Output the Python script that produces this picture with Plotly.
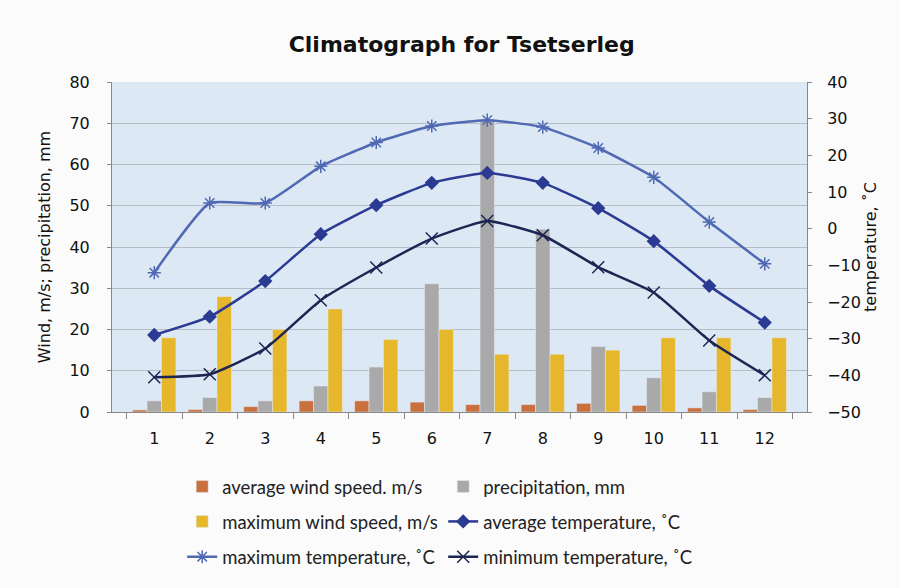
import plotly.graph_objects as go

months = [str(m) for m in range(1, 13)]
avg_wind = [0.5, 0.6, 1.3, 2.7, 2.7, 2.4, 1.8, 1.8, 2.1, 1.6, 1.0, 0.6]
precip = [2.7, 3.5, 2.7, 6.3, 10.9, 31.1, 70.5, 44.3, 15.9, 8.3, 4.9, 3.5]
max_wind = [18, 28, 20, 25, 17.6, 20, 14, 14, 15, 18, 18, 18]
avg_temp = [-29, -24, -14.3, -1.5, 6.4, 12.5, 15.2, 12.5, 5.6, -3.4, -15.6, -25.6]
max_temp = [-12, 7, 7, 17, 23.5, 28, 29.6, 27.7, 22, 14, 1.8, -9.6]
min_temp = [-40.5, -39.7, -32.7, -19.5, -10.6, -2.7, 2.1, -1.8, -10.5, -17.4, -30.5, -40]

C_ORANGE = "#c9703e"
C_GRAY = "#a9a9a9"
C_YELLOW = "#e6b72a"
C_AVG = "#2b3a92"
C_MAX = "#5069b3"
C_MIN = "#1d2553"

legend_font = dict(family="Lato, Carlito, sans-serif", size=18.5, color="#222")
tick_font = dict(family="DejaVu Sans, Verdana, sans-serif", size=16, color="#111")
title_font = dict(family="DejaVu Sans, Verdana, sans-serif", size=16, color="#111")

fig = go.Figure()
fig.add_trace(go.Bar(x=months, y=avg_wind, name="average wind speed. m/s",
                     marker_color=C_ORANGE, legend="legend"))
fig.add_trace(go.Bar(x=months, y=precip, name="precipitation, mm",
                     marker_color=C_GRAY, legend="legend"))
fig.add_trace(go.Bar(x=months, y=max_wind, name="maximum wind speed, m/s",
                     marker_color=C_YELLOW, legend="legend2"))
fig.add_trace(go.Scatter(x=months, y=avg_temp, name="average temperature, ˚C",
                         mode="lines+markers", yaxis="y2", legend="legend2",
                         line=dict(color=C_AVG, width=2.5, shape="spline", smoothing=0.45),
                         marker=dict(symbol="diamond", size=11, color=C_AVG)))
fig.add_trace(go.Scatter(x=months, y=max_temp, name="maximum temperature, ˚C",
                         mode="lines+markers", yaxis="y2", legend="legend3",
                         line=dict(color=C_MAX, width=2.5, shape="spline", smoothing=0.45),
                         marker=dict(symbol="asterisk-open", size=11,
                                     color=C_MAX, line=dict(width=1.5, color=C_MAX))))
fig.add_trace(go.Scatter(x=months, y=min_temp, name="minimum temperature, ˚C",
                         mode="lines+markers", yaxis="y2", legend="legend3",
                         line=dict(color=C_MIN, width=2.5, shape="spline", smoothing=0.45),
                         marker=dict(symbol="x-thin-open", size=12,
                                     color=C_MIN, line=dict(width=1.5, color=C_MIN))))

leg_common = dict(orientation="h", xanchor="left", yanchor="middle",
                  x=0.101, entrywidth=216, entrywidthmode="pixels",
                  font=legend_font, bgcolor="rgba(0,0,0,0)", traceorder="normal")

fig.update_layout(
    width=900, height=588,
    margin=dict(l=112, r=93, t=82, b=176),
    paper_bgcolor="#fbfbfb",
    plot_bgcolor="#dce8f4",
    barmode="group", bargap=0.22, bargroupgap=0,
    title=dict(text="<b>Climatograph for Tsetserleg</b>", x=0.513, xanchor="center",
               y=0.925, yanchor="middle",
               font=dict(family="DejaVu Sans, Verdana, sans-serif", size=22, color="#111")),
    xaxis=dict(type="category", tickson="boundaries", ticks="outside", ticklen=6,
               tickcolor="#888", showline=True, linecolor="#888", linewidth=1,
               showgrid=False, ticklabelstandoff=12, tickfont=tick_font),
    yaxis=dict(range=[0, 80], dtick=10, showgrid=True, gridcolor="#b5bcc6", gridwidth=1,
               showline=True, linecolor="#888", ticks="outside", ticklen=4, tickcolor="#888",
               zeroline=False, ticklabelstandoff=14,
               title=dict(text="Wind, m/s; precipitation, mm", standoff=14, font=title_font),
               tickfont=tick_font),
    yaxis2=dict(range=[-50, 40], dtick=10, overlaying="y", side="right", showgrid=False,
                showline=True, linecolor="#888", ticks="outside", ticklen=4, tickcolor="#888",
                zeroline=False, ticklabelstandoff=12,
                title=dict(text="temperature, ˚C", standoff=4, font=title_font),
                tickfont=tick_font),
    legend=dict(y=-0.227, **leg_common),
    legend2=dict(y=-0.333, **leg_common),
    legend3=dict(y=-0.44, **leg_common),
)

fig.write_html("out.html")
